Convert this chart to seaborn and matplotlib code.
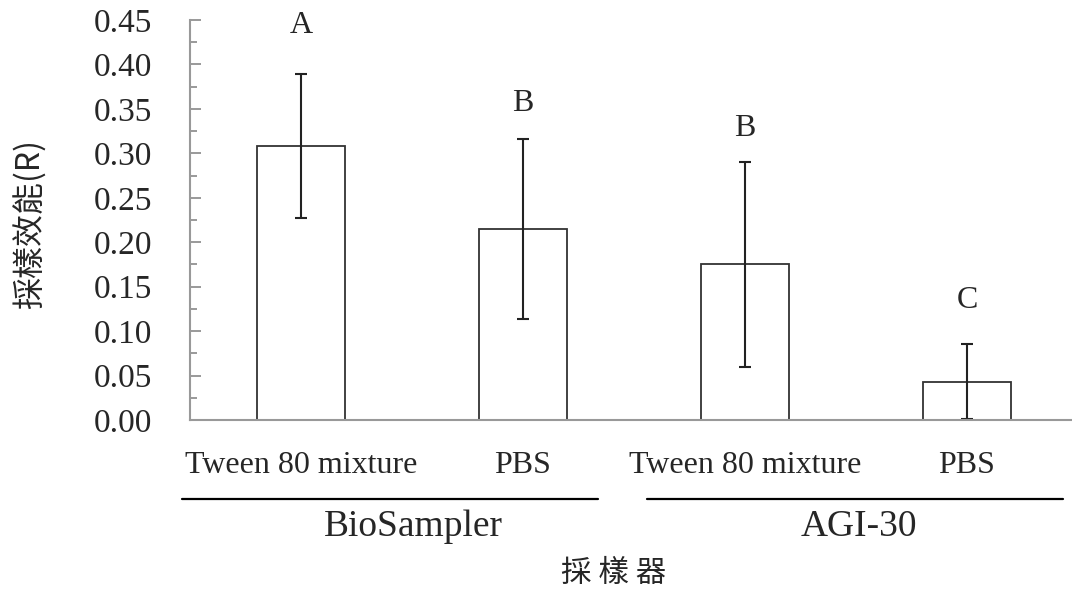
import matplotlib
matplotlib.use("Agg")
import matplotlib.pyplot as plt
import seaborn as sns
import pandas as pd
import numpy as np

# data
samplers = ["BioSampler", "BioSampler", "AGI-30", "AGI-30"]
media = ["Tween 80 mixture", "PBS", "Tween 80 mixture", "PBS"]
means = [0.308, 0.215, 0.175, 0.043]
errors = [0.081, 0.101, 0.115, 0.042]
letters = ["A", "B", "B", "C"]
letter_offsets = [0.055, 0.040, 0.038, 0.050]
group_names = ["BioSampler", "AGI-30"]
yticks = [0.00, 0.05, 0.10, 0.15, 0.20, 0.25, 0.30, 0.35, 0.40, 0.45]

sns.set_style("white")
serif = ["Liberation Serif", "Noto Sans CJK TC", "DejaVu Sans"]
cjk = ["Noto Sans CJK TC", "Liberation Serif"]
plt.rcParams["font.family"] = serif

df = pd.DataFrame({"pos": [f"{i}" for i in range(len(means))], "value": means})

fig = plt.figure(figsize=(10.72, 5.92), dpi=100)
ax = fig.add_axes([190 / 1072, 172 / 592, 1 - 190 / 1072, 400 / 592])

sns.barplot(data=df, x="pos", y="value", color="white", edgecolor="black",
            linewidth=1.3, width=0.4, ax=ax, errorbar=None)
for p in ax.patches:
    p.set_facecolor("white")
    p.set_edgecolor("#333333")

x = np.arange(len(means))
lower = [min(e, m) for m, e in zip(means, errors)]
ax.errorbar(x, means, yerr=[lower, errors], fmt="none", ecolor="#222222",
            elinewidth=1.5, capsize=4.5, capthick=1.5)

for xi, m, e, lab, off in zip(x, means, errors, letters, letter_offsets):
    ax.text(xi, m + e + off, lab, ha="center", va="center", fontsize=23,
            family=serif)

ax.set_xlim(-0.5, 3.473)
ax.set_ylim(0, 0.45)
ax.set_yticks(yticks)
ax.set_yticklabels([f"{v:.2f}" for v in yticks], fontsize=24)
ax.set_yticks(np.arange(0.025, 0.45, 0.05), minor=True)
ax.tick_params(axis="y", which="major", direction="in", length=8, width=1.2,
               color="#888888", pad=27, left=True)
ax.tick_params(axis="y", which="minor", direction="in", length=5, width=1.2,
               color="#888888", left=True)
ax.set_xticks(x)
ax.set_xticklabels(media, fontsize=23)
ax.tick_params(axis="x", length=0, pad=22)
ax.set_xlabel("")
ax.set_ylabel("")

for s in ["top", "right"]:
    ax.spines[s].set_visible(False)
for s in ["left", "bottom"]:
    ax.spines[s].set_color("#999999")
    ax.spines[s].set_linewidth(1.5)

# group lines and labels (figure coords)
line_spans = [(182, 598), (647, 1063)]
text_centers = [413, 859]
for (x0, x1), tc, name in zip(line_spans, text_centers, group_names):
    fig.add_artist(plt.Line2D([x0 / 1072, x1 / 1072], [1 - 499 / 592] * 2,
                              color="black", linewidth=1.6))
    fig.text(tc / 1072, 1 - 527 / 592, name, ha="center", va="center",
             fontsize=27, family=serif)

fig.text(614 / 1072, 1 - 573 / 592, "採 樣 器", ha="center", va="center",
         fontsize=22, family=cjk)
fig.text(30 / 1072, 1 - 224 / 592, "採樣效能(R)", ha="center", va="center",
         rotation=90, fontsize=23, family=cjk)

fig.savefig("out.png", dpi=100)
